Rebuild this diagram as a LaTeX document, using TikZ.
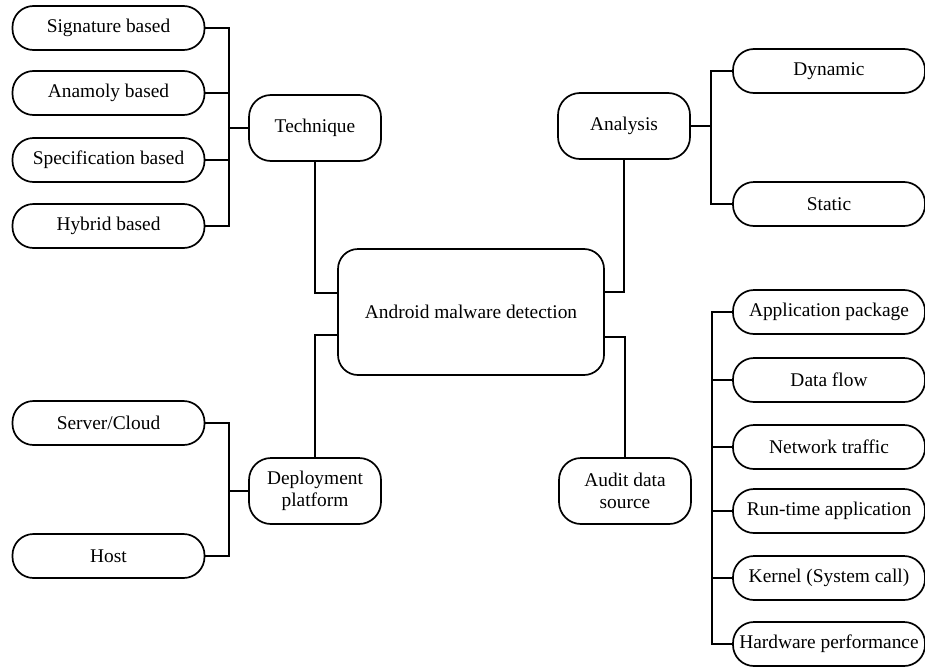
\documentclass[tikz,border=0pt]{standalone}
\usepackage{fontspec}
\setmainfont{Liberation Serif}
\begin{document}
\begin{tikzpicture}[x=0.5pt, y=-0.5pt, line width=0.85pt,
                    every node/.style={font=\fontsize{9.7}{11}\selectfont},
                    leaf node/.style={draw, rounded corners=10.5pt, minimum width=96pt,
                                      minimum height=22pt, inner sep=0pt},
                    mid node/.style={draw, rounded corners=11pt, minimum width=66pt,
                                     minimum height=33pt, inner sep=0pt, align=center},
                    main node/.style={draw, rounded corners=10pt, minimum width=133pt,
                                      minimum height=63pt}]
    \useasboundingbox (0,0) rectangle (925,669);

    \node[main node] (adm)  at (471,312)   {Android malware detection};

    \node[mid node]  (tech) at (315,128)   {Technique};
    \node[mid node]  (ana)  at (624,126)   {Analysis};
    \node[mid node]  (dep)  at (315,491)   {Deployment\\platform};
    \node[mid node]  (aud)  at (625,491)   {Audit data\\source};

    \node[leaf node] (sig)  at (108.5,28)  {Signature based};
    \node[leaf node] (ano)  at (108.5,93)  {Anamoly based};
    \node[leaf node] (spe)  at (108.5,160) {Specification based};
    \node[leaf node] (hyb)  at (108.5,226) {Hybrid based};
    \node[leaf node] (srv)  at (108.5,423) {Server/Cloud};
    \node[leaf node] (hst)  at (108.5,556) {Host};

    \node[leaf node] (dyn)  at (829,71)    {Dynamic};
    \node[leaf node] (sta)  at (829,204)   {Static};
    \node[leaf node] (app)  at (829,312)   {Application package};
    \node[leaf node] (dfl)  at (829,380)   {Data flow};
    \node[leaf node] (net)  at (829,447)   {Network traffic};
    \node[leaf node] (run)  at (829,511)   {Run-time application};
    \node[leaf node] (ker)  at (829,578)   {Kernel (System call)};
    \node[leaf node] (hw)   at (829,644)   {Hardware performance};

    % links to the centre box
    \draw (tech.south) |- ([yshift=9.5pt]adm.west);
    \draw (dep.north)  |- ([yshift=-11.5pt]adm.west);
    \draw (ana.south)  |- ([yshift=10pt]adm.east);
    \draw (aud.north)  |- ([yshift=-12.5pt]adm.east);

    % buses
    \draw (tech.west) -- ++(-9.5pt,0) coordinate (tbus);
    \foreach \n in {sig,ano,spe,hyb}
        \draw (\n.east) -| (tbus);
    \draw (dep.west) -- ++(-9.5pt,0) coordinate (dbus);
    \foreach \n in {srv,hst}
        \draw (\n.east) -| (dbus);
    \draw (ana.east) -- ++(10pt,0) coordinate (abus);
    \foreach \n in {dyn,sta}
        \draw (\n.west) -| (abus);
    \draw (app.west) -- ++(-10pt,0) |- (hw.west);
    \foreach \n in {dfl,net,run,ker}
        \draw (\n.west) -- ++(-10pt,0);
\end{tikzpicture}
\end{document}
